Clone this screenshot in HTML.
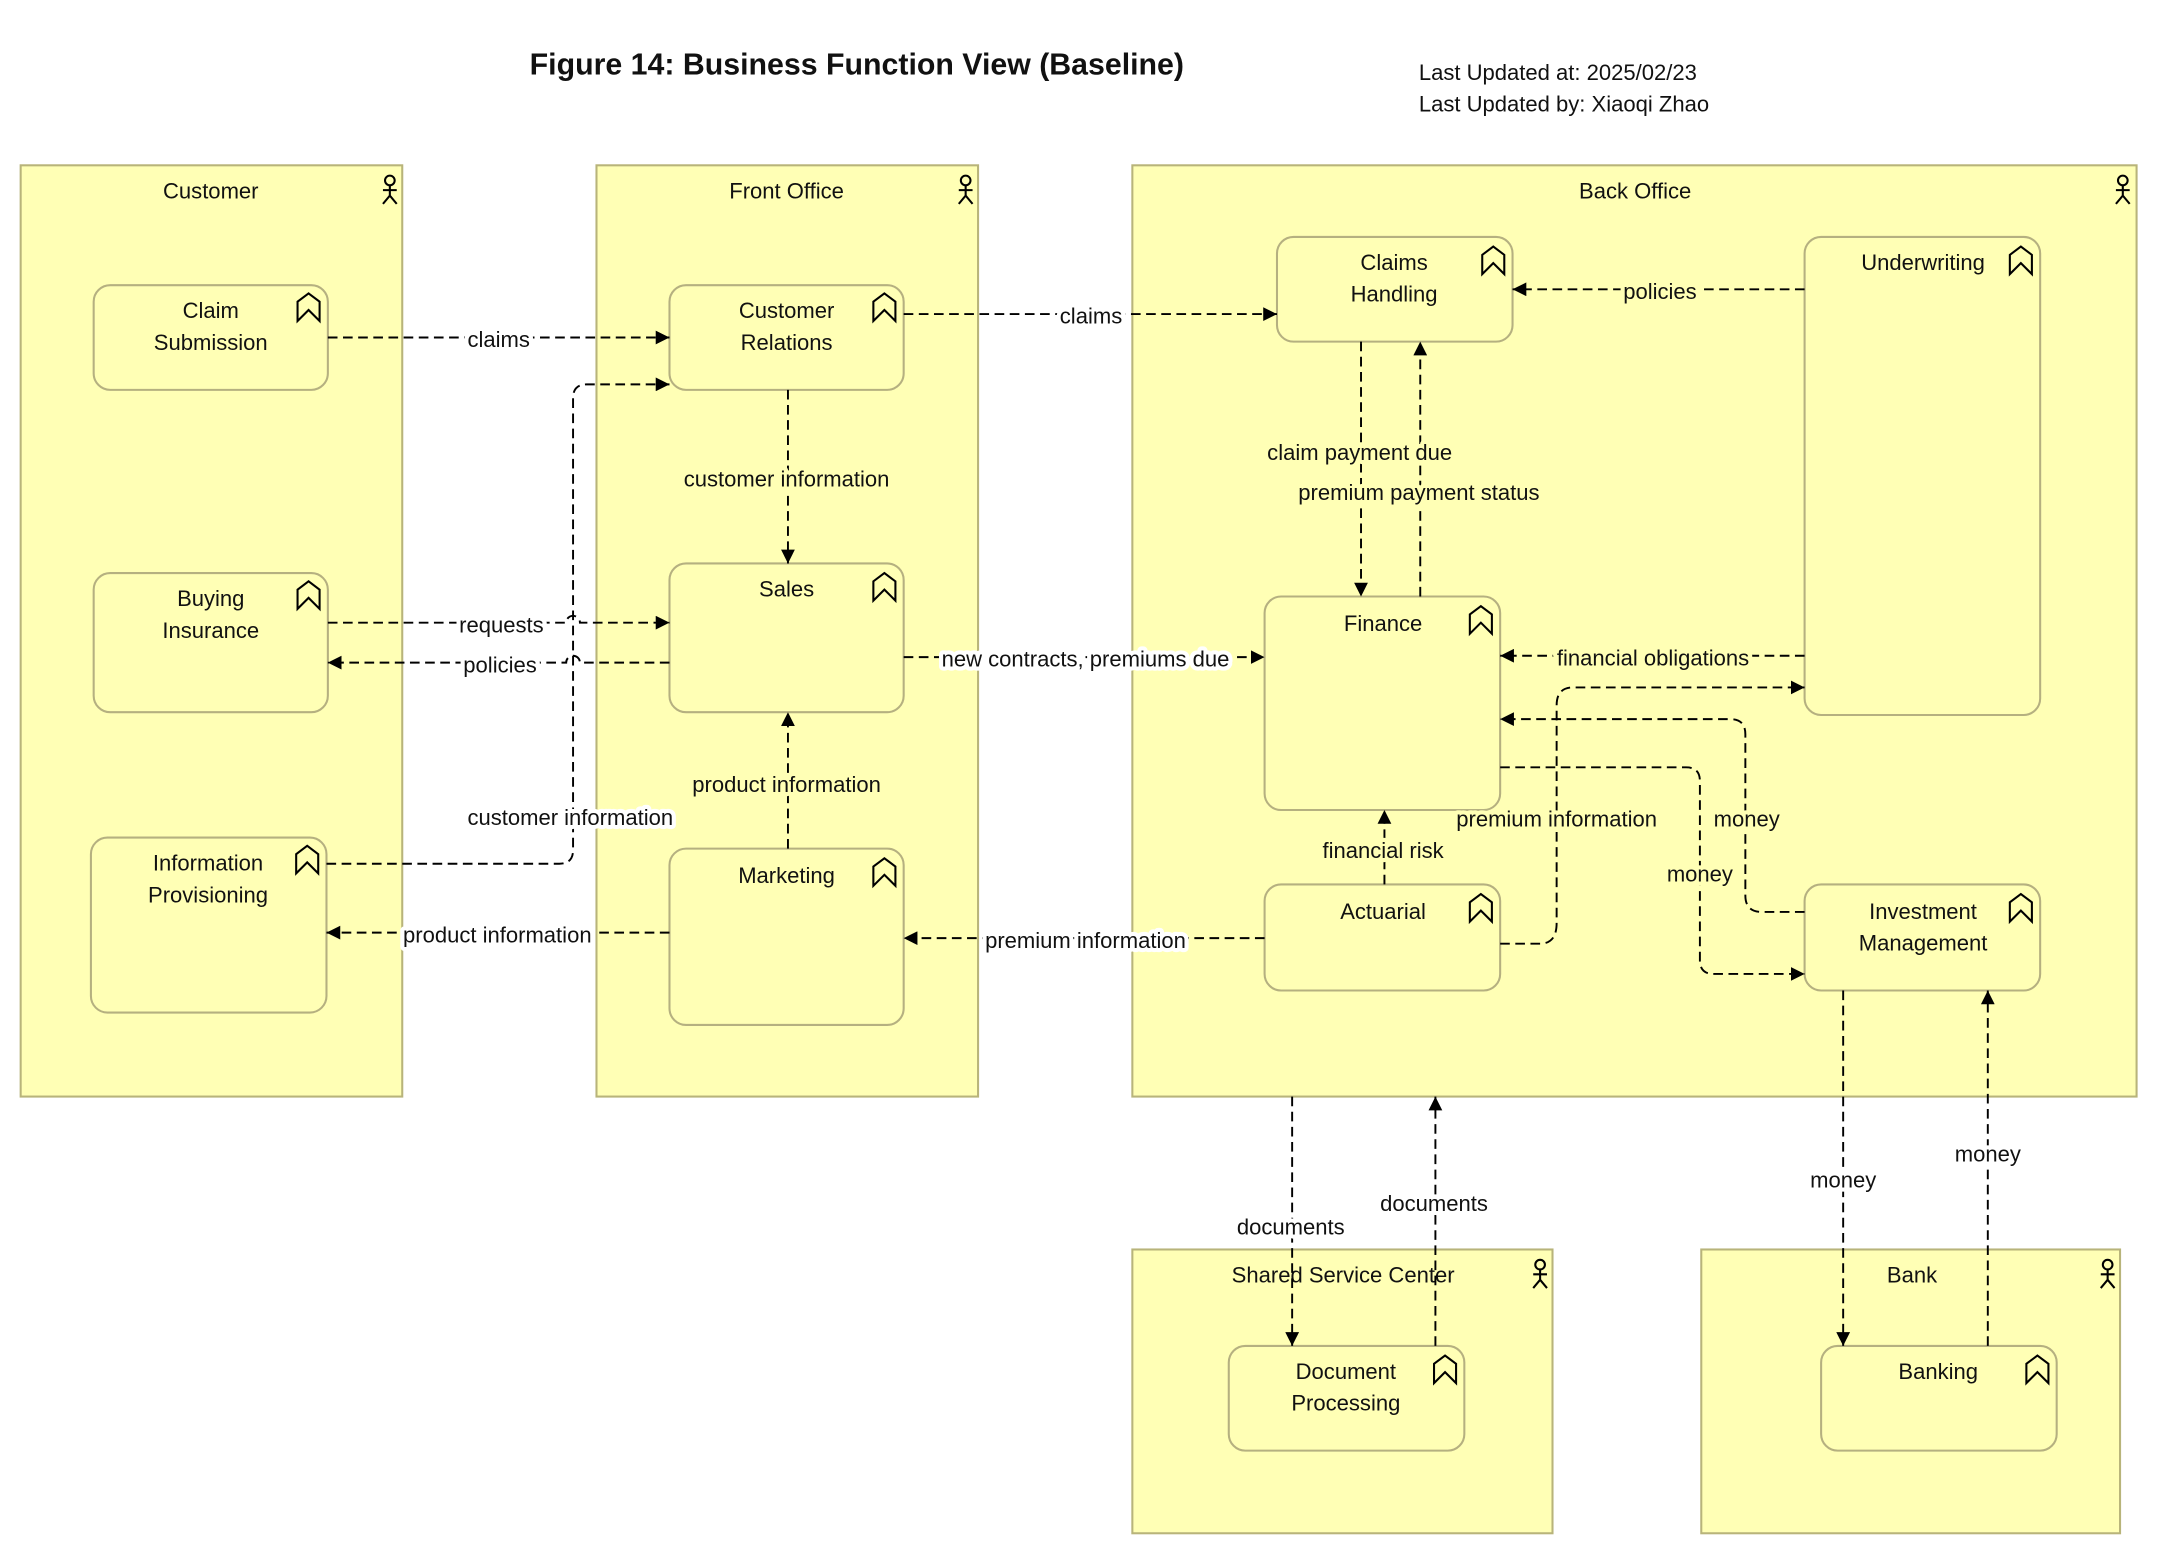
<!DOCTYPE html>
<html><head><meta charset="utf-8"><style>
html,body{margin:0;padding:0;background:#fff;}
svg{display:block;}
text{font-family:"Liberation Sans",sans-serif;font-size:16px;fill:#111;}
.g{fill:#ffffb5;stroke:#b8b47a;stroke-width:1.5;}
.b{fill:#ffffb5;stroke:#b5b080;stroke-width:1.5;}
.c{fill:none;stroke:#000;stroke-width:1.4;stroke-dasharray:7 4;}
.ic{fill:none;stroke:#000;stroke-width:1.5;}
.ly{paint-order:stroke;stroke:#ffffb5;stroke-width:6px;stroke-linejoin:round;}
.lw{paint-order:stroke;stroke:#fff;stroke-width:6px;stroke-linejoin:round;}
</style></head><body>
<svg width="2160" height="1556" viewBox="0 0 1568 1129.5" preserveAspectRatio="none" xmlns="http://www.w3.org/2000/svg">
<defs>
<marker id="a" viewBox="0 0 10 10" refX="10" refY="5" markerWidth="10" markerHeight="10" markerUnits="userSpaceOnUse" orient="auto"><path d="M0,0 L10,5 L0,10 z" fill="#000"/></marker>
<g id="fn"><path class="ic" d="M0,20 L0,6 L8,0 L16,6 L16,20 L8,12 Z"/></g>
<g id="ac"><circle cx="0" cy="-7" r="3.5" class="ic"/><path class="ic" d="M0,-3.5 V4 M-5,0 H5 M-5,10 L0,4 L5,10"/></g>
</defs>
<text x="622" y="54" text-anchor="middle" style="font-size:22px;font-weight:bold">Figure 14: Business Function View (Baseline)</text>
<text x="1030" y="58">Last Updated at: 2025/02/23</text>
<text x="1030" y="81">Last Updated by: Xiaoqi Zhao</text>

<rect class="g" x="15" y="120" width="277" height="676"/>
<text x="153" y="144" text-anchor="middle">Customer</text><use href="#ac" x="283" y="138"/>
<rect class="g" x="433" y="120" width="277" height="676"/>
<text x="571" y="144" text-anchor="middle">Front Office</text><use href="#ac" x="701" y="138"/>
<rect class="g" x="822" y="120" width="729" height="676"/>
<text x="1187" y="144" text-anchor="middle">Back Office</text><use href="#ac" x="1541" y="138"/>
<rect class="g" x="822" y="907" width="305" height="206"/>
<text x="975" y="931" text-anchor="middle">Shared Service Center</text><use href="#ac" x="1118" y="925"/>
<rect class="g" x="1235" y="907" width="304" height="206"/>
<text x="1388" y="931" text-anchor="middle">Bank</text><use href="#ac" x="1530" y="925"/>

<rect class="b" x="68" y="207" width="170" height="76" rx="12"/><use href="#fn" x="216" y="213"/>
<text x="153" y="231" text-anchor="middle">Claim</text><text x="153" y="254" text-anchor="middle">Submission</text>
<rect class="b" x="68" y="416" width="170" height="101" rx="12"/><use href="#fn" x="216" y="422"/>
<text x="153" y="440" text-anchor="middle">Buying</text><text x="153" y="463" text-anchor="middle">Insurance</text>
<rect class="b" x="66" y="608" width="171" height="127" rx="12"/><use href="#fn" x="215" y="614"/>
<text x="151" y="632" text-anchor="middle">Information</text><text x="151" y="655" text-anchor="middle">Provisioning</text>
<rect class="b" x="486" y="207" width="170" height="76" rx="12"/><use href="#fn" x="634" y="213"/>
<text x="571" y="231" text-anchor="middle">Customer</text><text x="571" y="254" text-anchor="middle">Relations</text>
<rect class="b" x="486" y="409" width="170" height="108" rx="12"/><use href="#fn" x="634" y="416"/>
<text x="571" y="433" text-anchor="middle">Sales</text>
<rect class="b" x="486" y="616" width="170" height="128" rx="12"/><use href="#fn" x="634" y="623"/>
<text x="571" y="641" text-anchor="middle">Marketing</text>
<rect class="b" x="927" y="172" width="171" height="76" rx="12"/><use href="#fn" x="1076" y="179"/>
<text x="1012" y="196" text-anchor="middle">Claims</text><text x="1012" y="219" text-anchor="middle">Handling</text>
<rect class="b" x="1310" y="172" width="171" height="347" rx="12"/><use href="#fn" x="1459" y="179"/>
<text x="1396" y="196" text-anchor="middle">Underwriting</text>
<rect class="b" x="918" y="433" width="171" height="155" rx="12"/><use href="#fn" x="1067" y="440"/>
<text x="1004" y="458" text-anchor="middle">Finance</text>
<rect class="b" x="918" y="642" width="171" height="77" rx="12"/><use href="#fn" x="1067" y="649"/>
<text x="1004" y="667" text-anchor="middle">Actuarial</text>
<rect class="b" x="1310" y="642" width="171" height="77" rx="12"/><use href="#fn" x="1459" y="649"/>
<text x="1396" y="667" text-anchor="middle">Investment</text><text x="1396" y="690" text-anchor="middle">Management</text>
<rect class="b" x="892" y="977" width="171" height="76" rx="12"/><use href="#fn" x="1041" y="984"/>
<text x="977" y="1001" text-anchor="middle">Document</text><text x="977" y="1024" text-anchor="middle">Processing</text>
<rect class="b" x="1322" y="977" width="171" height="76" rx="12"/><use href="#fn" x="1471" y="984"/>
<text x="1407" y="1001" text-anchor="middle">Banking</text>

<path class="c" d="M238,245 H486" marker-end="url(#a)"/>
<path class="c" d="M656,228 H927" marker-end="url(#a)"/>
<path class="c" d="M1310,210 H1098" marker-end="url(#a)"/>
<path class="c" d="M572,283 V409" marker-end="url(#a)"/>
<path class="c" d="M572,616 V517" marker-end="url(#a)"/>
<path class="c" d="M238,452 H411 a5,5 0 0 1 10,0 H486" marker-end="url(#a)"/>
<path class="c" d="M486,481 H421 a5,5 0 0 0 -10,0 H238" marker-end="url(#a)"/>
<path class="c" d="M237,627 H406 Q416,627 416,617 V289 Q416,279 426,279 H486" marker-end="url(#a)"/>
<path class="c" d="M486,677 H237" marker-end="url(#a)"/>
<path class="c" d="M656,477 H918" marker-end="url(#a)"/>
<path class="c" d="M988,248 V433" marker-end="url(#a)"/>
<path class="c" d="M1031,433 V248" marker-end="url(#a)"/>
<path class="c" d="M1310,476 H1089" marker-end="url(#a)"/>
<path class="c" d="M1089,685 H1118 Q1130,685 1130,670 V512 Q1130,499 1142,499 H1310" marker-end="url(#a)"/>
<path class="c" d="M1310,662 H1279 Q1267,662 1267,650 V533 Q1267,522 1256,522 H1089" marker-end="url(#a)"/>
<path class="c" d="M1089,557 H1224 Q1234,557 1234,567 V697 Q1234,707 1244,707 H1310" marker-end="url(#a)"/>
<path class="c" d="M918,681 H656" marker-end="url(#a)"/>
<path class="c" d="M1005,642 V588" marker-end="url(#a)"/>
<path class="c" d="M938,796 V977" marker-end="url(#a)"/>
<path class="c" d="M1042,977 V796" marker-end="url(#a)"/>
<path class="c" d="M1338,719 V977" marker-end="url(#a)"/>
<path class="c" d="M1443,977 V719" marker-end="url(#a)"/>

<text class="lw" x="362" y="252" text-anchor="middle">claims</text>
<text class="lw" x="792" y="235" text-anchor="middle">claims</text>
<text class="ly" x="1205" y="217" text-anchor="middle">policies</text>
<text class="ly" x="571" y="353" text-anchor="middle">customer information</text>
<text class="ly" x="571" y="575" text-anchor="middle">product information</text>
<text class="lw" x="364" y="459" text-anchor="middle">requests</text>
<text class="lw" x="363" y="488" text-anchor="middle">policies</text>
<text class="lw" x="414" y="599" text-anchor="middle">customer information</text>
<text class="lw" x="361" y="684" text-anchor="middle">product information</text>
<text class="lw" x="788" y="484" text-anchor="middle">new contracts, premiums due</text>
<text class="ly" x="987" y="334" text-anchor="middle">claim payment due</text>
<text class="ly" x="1030" y="363" text-anchor="middle">premium payment status</text>
<text class="ly" x="1200" y="483" text-anchor="middle">financial obligations</text>
<text class="ly" x="1130" y="600" text-anchor="middle">premium information</text>
<text class="ly" x="1268" y="600" text-anchor="middle">money</text>
<text class="ly" x="1234" y="640" text-anchor="middle">money</text>
<text class="lw" x="788" y="688" text-anchor="middle">premium information</text>
<text class="ly" x="1004" y="623" text-anchor="middle">financial risk</text>
<text class="lw" x="937" y="896" text-anchor="middle">documents</text>
<text class="lw" x="1041" y="879" text-anchor="middle">documents</text>
<text class="lw" x="1338" y="862" text-anchor="middle">money</text>
<text class="lw" x="1443" y="843" text-anchor="middle">money</text>
</svg>
</body></html>
